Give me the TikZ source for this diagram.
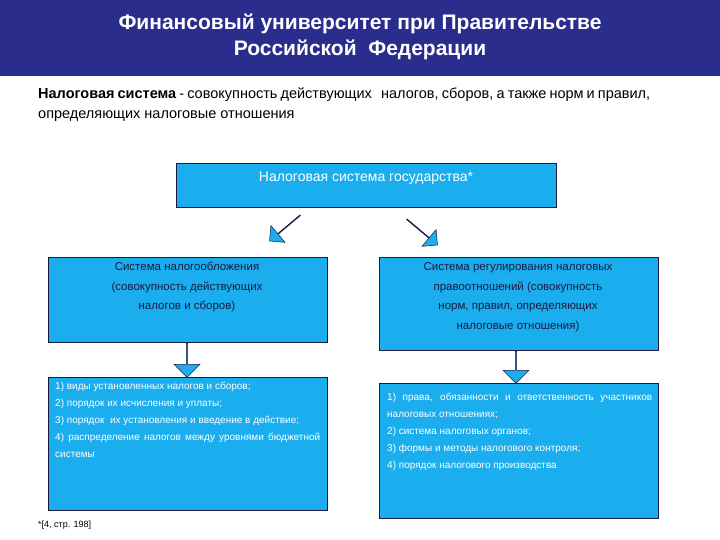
\documentclass[tikz,border=0pt]{standalone}
\usepackage{fontspec}
\setmainfont{Liberation Sans}
\usetikzlibrary{shapes.arrows}
\definecolor{navy}{HTML}{2B2D8C}
\definecolor{cy}{HTML}{1AAEEE}
\definecolor{txt}{HTML}{1A1A40}
\begin{document}
\begin{tikzpicture}[x=1pt,y=-1pt,
 box/.style={draw=txt,line width=0.8pt,fill=cy,inner sep=3pt},
 arr/.style={single arrow,draw=txt,fill=cy,line width=0.5pt,minimum width=26pt,single arrow head extend=6pt,minimum height=36pt,inner sep=0pt},
 ]
\useasboundingbox (0,0) rectangle (720,540);
\fill[navy] (0,0) rectangle (720,76);
\node[text=white,font=\bfseries\fontsize{21}{26}\selectfont,align=center] (title) at (360,37) {Финансовый университет при Правительстве\\Российской\ \ Федерации};
\node[text width=612pt,align=justify,anchor=north west,inner sep=0pt,font=\fontsize{14.5}{19.5}\selectfont] (def) at (38,88)
 {\textbf{Налоговая система} - совокупность действующих\ \ \ налогов, сборов, а также норм и правил, определяющих налоговые отношения};
\node[box,minimum width=380pt,minimum height=44pt,anchor=north west,font=\fontsize{14}{17}\selectfont,text=white] (top) at (176,163) {};
\node[text=white,font=\fontsize{14}{17}\selectfont,anchor=north] (toptxt) at (366,168) {Налоговая система государства*};
\node[box,minimum width=279pt,minimum height=85pt,anchor=north west] (l1) at (48,257) {};
\node[anchor=north,align=center,text=txt,font=\fontsize{11.5}{19.5}\selectfont] (l1t) at (187,259) {Система налогообложения\\(совокупность действующих\\налогов и сборов)};
\node[box,minimum width=279pt,minimum height=93pt,anchor=north west] (r1) at (379,257) {};
\node[anchor=north,align=center,text=txt,font=\fontsize{11.5}{19.5}\selectfont] (r1t) at (518,259) {Система регулирования налоговых\\правоотношений (совокупность\\норм, правил, определяющих\\налоговые отношения)};
\node[box,minimum width=279pt,minimum height=133pt,anchor=north west] (l2) at (48,377) {};
\node[anchor=north west,text width=265pt,align=justify,text=white,font=\fontsize{10}{17}\selectfont,inner sep=0pt] (l2t) at (55,382) {1) виды установленных налогов и сборов;\\2) порядок их исчисления и уплаты;\\3) порядок\ \ их установления и введение в действие;\\4) распределение налогов между уровнями бюджетной системы};
\node[box,minimum width=279pt,minimum height=135pt,anchor=north west] (r2) at (379,383) {};
\node[anchor=north west,text width=265pt,align=justify,text=white,font=\fontsize{10}{17}\selectfont,inner sep=0pt] (r2t) at (387,393) {1) права, обязанности и ответственность участников налоговых отношениях;\\2) система налоговых органов;\\3) формы и методы налогового контроля;\\4) порядок налогового производства};
\node[anchor=west,font=\fontsize{9}{11}\selectfont,inner sep=0pt] (foot) at (38,525) {*[4, стр. 198]};
\node[arr,rotate=-90,minimum height=34pt] (a1) at (187,360) {};
\node[arr,rotate=-90,minimum height=32pt] (a2) at (516,367) {};
\node[arr,rotate=-140,minimum height=40pt,minimum width=22pt] (a3) at (285,228) {};
\node[arr,rotate=-40,minimum height=40pt,minimum width=22pt] (a4) at (422,232) {};
\end{tikzpicture}
\end{document}
